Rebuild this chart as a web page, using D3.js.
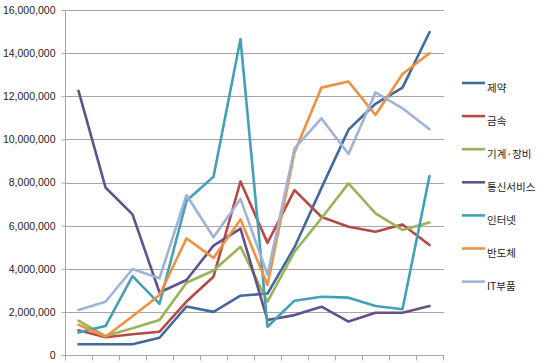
<!DOCTYPE html>
<html>
<head>
<meta charset="utf-8">
<script src="https://cdn.jsdelivr.net/npm/d3@7/dist/d3.min.js"></script>
<style>
html,body{margin:0;padding:0;background:#fff;}
svg{display:block;}
</style>
</head>
<body>
<svg id="chart" width="549" height="363"></svg>
<script>
const categories = ["1","2","3","4","5","6","7","8","9","10","11","12","13","14"];
const seriesNames = ["제약","금속","기계·장비","통신서비스","인터넷","반도체","IT부품"];
const pharma   = [500000,500000,500000,800000,2250000,2000000,2750000,2850000,5000000,7750000,10450000,11650000,12400000,14970000];
const metal    = [1150000,820000,960000,1080000,2480000,3630000,8050000,5200000,7650000,6400000,5950000,5720000,6050000,5100000];
const machine  = [1590000,880000,1240000,1620000,3350000,3920000,5020000,2470000,4790000,6340000,7960000,6570000,5800000,6140000];
const telecom  = [12250000,7770000,6520000,2900000,3480000,5070000,5860000,1620000,1850000,2240000,1550000,1960000,1960000,2270000];
const internet = [1050000,1340000,3660000,2370000,7150000,8270000,14650000,1310000,2520000,2700000,2660000,2270000,2120000,8300000];
const semi     = [1400000,850000,1800000,2780000,5410000,4500000,6290000,3250000,9400000,12400000,12680000,11130000,13030000,13990000];
const itparts  = [2090000,2470000,3990000,3560000,7420000,5460000,7240000,3720000,9580000,10970000,9320000,12180000,11440000,10470000];
const yTicks = [0,2000000,4000000,6000000,8000000,10000000,12000000,14000000,16000000];
const colors = ["#43689F","#B84A46","#97B556","#64508A","#44A0B8","#EE9140","#A0B3D6"];

const values = [pharma, metal, machine, telecom, internet, semi, itparts];
const series = seriesNames.map((n,i)=>({name:n, values:values[i], color:colors[i]}));

const svg = d3.select("#chart");
const x = d3.scaleBand().domain(categories).range([65,443]);
const y = d3.scaleLinear().domain([0,16000000]).range([355,10]);

// gridlines
svg.append("g").selectAll("line").data(yTicks.filter(d=>d>0)).join("line")
  .attr("x1",65).attr("x2",444)
  .attr("y1",d=>Math.round(y(d))+0.5).attr("y2",d=>Math.round(y(d))+0.5)
  .attr("stroke","#a6a6a6").attr("stroke-width",1);

// y axis
const yAxis = d3.axisLeft(y).tickValues(yTicks).tickSize(4).tickPadding(6)
  .tickFormat(d3.format(","));
const gy = svg.append("g").attr("transform","translate(65.5,0)").call(yAxis);
gy.select(".domain").attr("stroke","#a6a6a6").attr("d","M0,10V355");
gy.selectAll(".tick line").attr("stroke","#a6a6a6");
gy.selectAll(".tick text").attr("font-family","'Liberation Sans', Arial, sans-serif")
  .attr("font-size","10.5px").attr("fill","#222");

// x axis
const gx = svg.append("g").attr("transform","translate(0,355.5)");
gx.append("line").attr("x1",65).attr("x2",444).attr("stroke","#a6a6a6");
const bounds = categories.map(c=>x(c)).concat([x(categories[categories.length-1])+x.bandwidth()]);
gx.selectAll("line.t").data(bounds).join("line").attr("class","t")
  .attr("x1",d=>Math.round(d)+0.5).attr("x2",d=>Math.round(d)+0.5)
  .attr("y1",0).attr("y2",5).attr("stroke","#a6a6a6");

// lines
const line = d3.line().x((d,i)=>x(categories[i])+x.bandwidth()/2).y(d=>y(d));
svg.append("g").selectAll("path").data(series).join("path")
  .attr("d",d=>line(d.values)).attr("fill","none")
  .attr("stroke",d=>d.color).attr("stroke-width",2.6)
  .attr("stroke-linejoin","round").attr("stroke-linecap","round");

// legend
const lg = svg.append("g").selectAll("g").data(series).join("g")
  .attr("transform",(d,i)=>`translate(462,${83 + i*33.1})`);
lg.append("line").attr("x1",0).attr("x2",23).attr("y1",0).attr("y2",0)
  .attr("stroke",d=>d.color).attr("stroke-width",2.6);
lg.append("text").attr("x",25).attr("y",5).attr("dy","0.35em")
  .attr("font-family","'Noto Sans CJK KR', sans-serif").attr("font-size","10.5px")
  .attr("fill","#222").text(d=>d.name);
</script>
</body>
</html>
